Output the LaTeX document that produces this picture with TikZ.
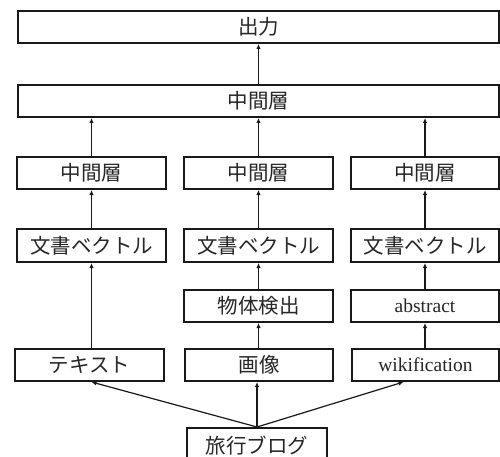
\documentclass[tikz,border=0pt]{standalone}
\usepackage{fontspec}
\setmainfont{Liberation Serif}
\newfontfamily\jp{Noto Sans CJK JP}
\usetikzlibrary{arrows.meta,calc}
\begin{document}
\begin{tikzpicture}[x=1pt,y=-1pt,
  box/.style={draw=black!90,line width=2pt,rectangle,inner sep=0pt,font=\fontsize{19.5}{21}\selectfont,text=black!85},
  arr/.style={draw=black!90,line width=1.2pt,-{Latex[length=5pt,width=4.5pt]}}]
\useasboundingbox (0,0) rectangle (500,457);
\clip (0,0) rectangle (500,457);
\fill[white] (0,0) rectangle (500,457);
\newcommand{\bx}[6]{\node[box,minimum width={#4-#2},minimum height={#5-#3}] (#1) at ({(#2+#4)/2},{(#3+#5)/2}) {#6};}
\newcommand{\jt}[1]{{\jp\fontsize{20.5}{22}\selectfont #1}}
\bx{out}{18}{11}{499}{43}{\jt{出力}}
\bx{mid}{18}{85}{499}{117}{\jt{中間層}}
\bx{m1}{17}{157}{166}{189}{\jt{中間層}}
\bx{m2}{184}{157}{333}{189}{\jt{中間層}}
\bx{m3}{351}{157}{499}{189}{\jt{中間層}}
\bx{v1}{17}{229}{166}{262}{\jt{文書ベクトル}}
\bx{v2}{184}{229}{333}{262}{\jt{文書ベクトル}}
\bx{v3}{351}{229}{499}{262}{\jt{文書ベクトル}}
\bx{d2}{184}{290}{333}{322}{\jt{物体検出}}
\bx{d3}{351}{290}{499}{322}{abstract}
\bx{t1}{15}{349}{164}{381}{\jt{テキスト}}
\bx{t2}{185}{349}{333}{381}{\jt{画像}}
\bx{t3}{352}{349}{499}{381}{wikification}
\bx{blog}{187}{428}{327}{464}{\jt{旅行ブログ}}
\draw[arr] (mid.north) -- (out.south);
\draw[arr] (m1.north) -- (m1.north |- mid.south);
\draw[arr] (m2.north) -- (m2.north |- mid.south);
\draw[arr] (m3.north) -- (m3.north |- mid.south);
\draw[arr] (v1) -- (m1);
\draw[arr] (v2) -- (m2);
\draw[arr] (v3) -- (m3);
\draw[arr] (d2) -- (v2);
\draw[arr] (d3) -- (v3);
\draw[arr] (t1.north -| v1.south) -- (v1.south);
\draw[arr] (t2.north -| d2.south) -- (d2.south);
\draw[arr] (t3.north -| d3.south) -- (d3.south);
\draw[arr] (blog.north) -- ([xshift=2pt]t1.south);
\draw[arr] (blog.north) -- (blog.north |- t2.south);
\draw[arr] (blog.north) -- ([xshift=-22pt]t3.south);
\end{tikzpicture}
\end{document}
